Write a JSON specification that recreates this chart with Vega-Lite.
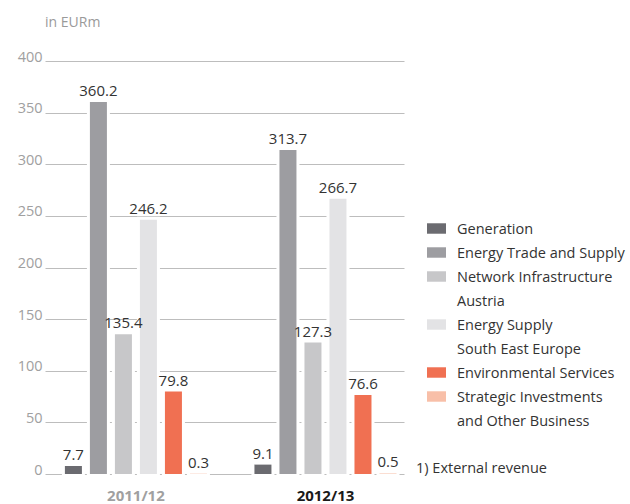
{
  "$schema": "https://vega.github.io/schema/vega-lite/v6.json",
  "width": 359,
  "height": 413,
  "autosize": "none",
  "padding": {"left": 45, "top": 61, "right": 226, "bottom": 30},
  "background": "white",
  "config": {
    "font": "Open Sans",
    "view": {"stroke": null}
  },
  "title": {
    "text": "in EURm",
    "anchor": "start",
    "frame": "group",
    "offset": 19,
    "fontSize": 14,
    "fontWeight": "normal",
    "color": "#9a9a9a",
    "font": "Open Sans"
  },
  "data": {
    "values": [
      {"year": "2011/12", "segment": "Generation", "value": 7.7},
      {"year": "2011/12", "segment": "Energy Trade and Supply", "value": 360.2},
      {"year": "2011/12", "segment": "Network Infrastructure Austria", "value": 135.4},
      {"year": "2011/12", "segment": "Energy Supply South East Europe", "value": 246.2},
      {"year": "2011/12", "segment": "Environmental Services", "value": 79.8},
      {"year": "2011/12", "segment": "Strategic Investments and Other Business", "value": 0.3},
      {"year": "2012/13", "segment": "Generation", "value": 9.1},
      {"year": "2012/13", "segment": "Energy Trade and Supply", "value": 313.7},
      {"year": "2012/13", "segment": "Network Infrastructure Austria", "value": 127.3},
      {"year": "2012/13", "segment": "Energy Supply South East Europe", "value": 266.7},
      {"year": "2012/13", "segment": "Environmental Services", "value": 76.6},
      {"year": "2012/13", "segment": "Strategic Investments and Other Business", "value": 0.5}
    ]
  },
  "encoding": {
    "x": {
      "field": "year",
      "type": "nominal",
      "scale": {"paddingInner": 0.182, "paddingOuter": 0.038, "align": 0.93},
      "axis": {
        "title": null,
        "domain": false,
        "ticks": false,
        "labelAngle": 0,
        "labelPadding": 14,
        "labelFontSize": 15,
        "labelFontWeight": "bold",
        "labelColor": {"expr": "datum.value == '2012/13' ? '#1a1a1a' : '#a0a0a0'"}
      }
    },
    "xOffset": {
      "field": "segment",
      "type": "nominal",
      "sort": ["Generation", "Energy Trade and Supply", "Network Infrastructure Austria", "Energy Supply South East Europe", "Environmental Services", "Strategic Investments and Other Business"],
      "scale": {"paddingInner": 0.32, "paddingOuter": 0.26}
    },
    "y": {
      "field": "value",
      "type": "quantitative",
      "scale": {"domain": [0, 400], "nice": false},
      "axis": {
        "title": null,
        "values": [0, 50, 100, 150, 200, 250, 300, 350, 400],
        "domain": false,
        "ticks": false,
        "labelPadding": 3,
        "labelFontSize": 14.5,
        "labelBaseline": "alphabetic",
        "labelColor": "#a0a0a0",
        "gridColor": "#bdbdbd",
        "gridWidth": 1,
        "gridOpacity": 1
      }
    }
  },
  "layer": [
    {
      "mark": {"type": "bar", "fill": "white", "stroke": "white", "strokeWidth": 6},
      "encoding": {}
    },
    {
      "mark": {"type": "bar"},
      "encoding": {
        "color": {
          "field": "segment",
          "type": "nominal",
          "scale": {
            "domain": ["Generation", "Energy Trade and Supply", "Network Infrastructure Austria", "Energy Supply South East Europe", "Environmental Services", "Strategic Investments and Other Business"],
            "range": ["#6b6b70", "#9d9da1", "#c7c7c9", "#e3e3e5", "#f07052", "#f8bfa8"]
          },
          "legend": {
            "title": "1) External revenue",
            "titleOrient": "bottom",
            "titleFontSize": 14.5,
            "titleFontWeight": "normal",
            "titleColor": "#333333",
            "titlePadding": 34,
            "orient": "none",
            "legendX": 371,
            "legendY": 158,
            "padding": 0,
            "symbolType": "M-1,-0.55H1V0.55H-1Z",
            "symbolSize": 361,
            "symbolStrokeWidth": 0,
            "symbolOffset": 11,
            "labelOffset": 11,
            "labelFontSize": 14.5,
            "labelBaseline": "top",
            "labelColor": "#333333",
            "labelLimit": 300,
            "rowPadding": 7,
            "labelExpr": "datum.label == 'Network Infrastructure Austria' ? ['Network Infrastructure', 'Austria'] : datum.label == 'Energy Supply South East Europe' ? ['Energy Supply', 'South East Europe'] : datum.label == 'Strategic Investments and Other Business' ? ['Strategic Investments', 'and Other Business'] : datum.label",
            "encode": {
              "labels": {"update": {"lineHeight": {"value": 24}, "dy": {"value": -6}}}
            }
          }
        }
      }
    },
    {
      "mark": {"type": "text", "baseline": "bottom", "dy": -3, "fontSize": 15, "color": "#333333"},
      "encoding": {
        "text": {"field": "value", "type": "quantitative", "format": ".1f"}
      }
    }
  ]
}
